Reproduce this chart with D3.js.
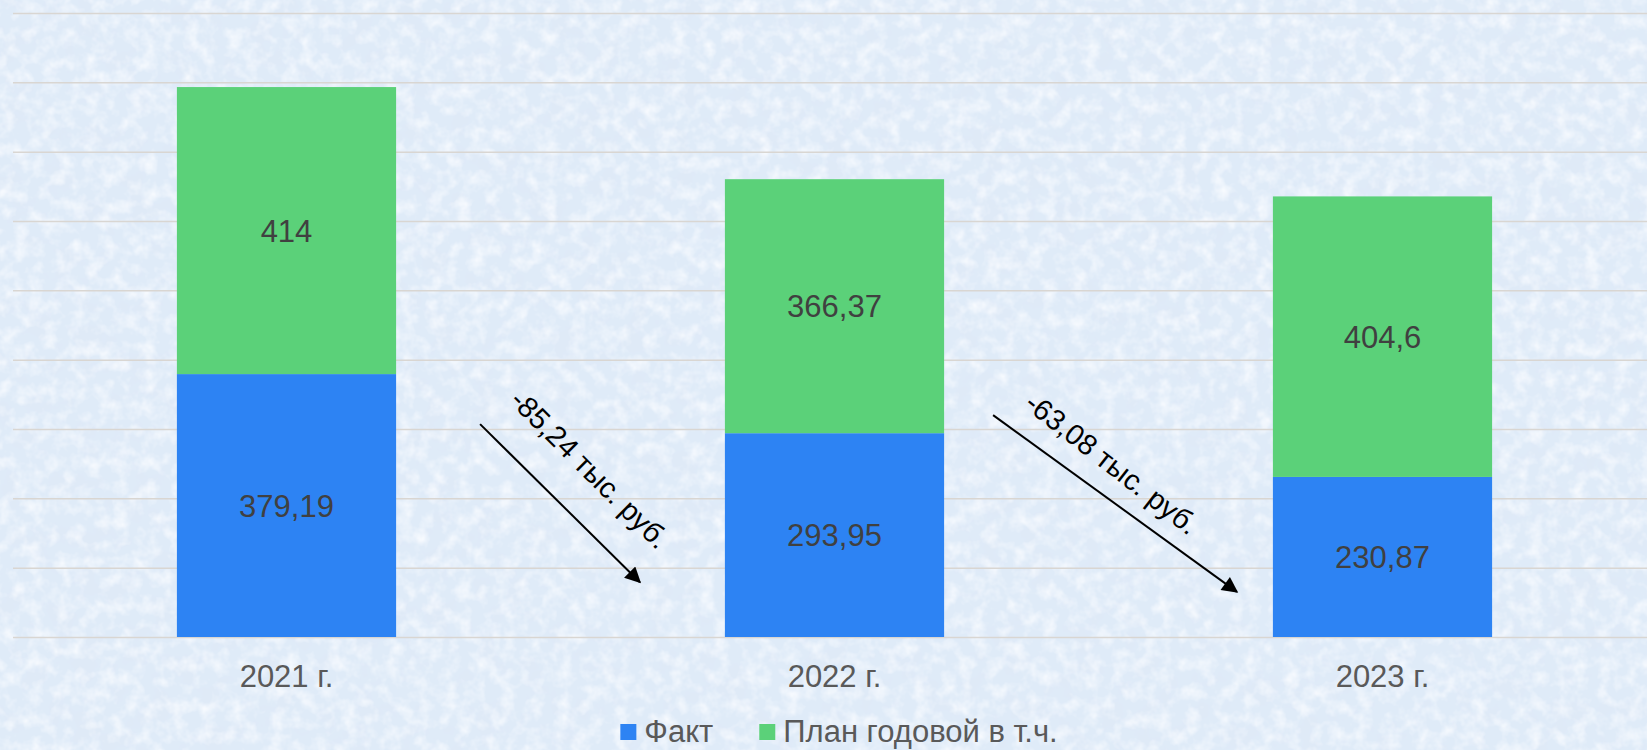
<!DOCTYPE html>
<html>
<head>
<meta charset="utf-8">
<script src="https://cdn.jsdelivr.net/npm/d3@7/dist/d3.min.js"></script>
<style>
  html, body { margin: 0; padding: 0; background: #dfeaf8; }
  svg { display: block; font-family: "Liberation Sans", Arial, sans-serif; }
</style>
</head>
<body>
<script>
var years = ['2021 г.', '2022 г.', '2023 г.'];
var fakt = [379.19, 293.95, 230.87];
var plan = [414, 366.37, 404.6];
var labelsFakt = ['379,19', '293,95', '230,87'];
var labelsPlan = ['414', '366,37', '404,6'];
var seriesNames = ['Факт', 'План годовой в т.ч.'];
var yTicks = [0, 100, 200, 300, 400, 500, 600, 700, 800, 900];

// annotation arrows between the bars (values in data units)
var arrowText = ['-85,24 тыс. руб.', '-63,08 тыс. руб.'];
var arrowFromY = [307, 320];
var arrowToY = [79, 65];

var width = 1647, height = 750;
var colours = ['#2d83f3', '#5bd179'];

var svg = d3.select('body').append('svg')
    .attr('width', width)
    .attr('height', height);

// textured light blue background
var defs = svg.append('defs');
var filt = defs.append('filter').attr('id', 'tex')
    .attr('x', 0).attr('y', 0).attr('width', '100%').attr('height', '100%');
filt.append('feTurbulence')
    .attr('type', 'fractalNoise')
    .attr('baseFrequency', 0.04)
    .attr('numOctaves', 4)
    .attr('seed', 7);
filt.append('feColorMatrix')
    .attr('type', 'matrix')
    .attr('values', '0 0 0 0 0.74  0 0 0 0 0.82  0 0 0 0 0.93  2.4 0 0 0 -1.0');

var filt2 = defs.append('filter').attr('id', 'tex2')
    .attr('x', 0).attr('y', 0).attr('width', '100%').attr('height', '100%');
filt2.append('feTurbulence')
    .attr('type', 'fractalNoise')
    .attr('baseFrequency', 0.07)
    .attr('numOctaves', 3)
    .attr('seed', 21);
filt2.append('feColorMatrix')
    .attr('type', 'matrix')
    .attr('values', '0 0 0 0 0.95  0 0 0 0 0.97  0 0 0 0 1  0 1.8 0 0 -0.75');

defs.append('marker')
    .attr('id', 'arrowhead')
    .attr('viewBox', '0 0 10 10')
    .attr('refX', 9).attr('refY', 5)
    .attr('markerWidth', 9).attr('markerHeight', 8)
    .attr('markerUnits', 'strokeWidth')
    .attr('orient', 'auto')
    .append('path')
    .attr('d', 'M0,0 L10,5 L0,10 z')
    .attr('fill', '#000');

svg.append('rect')
    .attr('width', width).attr('height', height)
    .attr('fill', '#dfebf8');
svg.append('rect')
    .attr('width', width).attr('height', height)
    .attr('filter', 'url(#tex)');
svg.append('rect')
    .attr('width', width).attr('height', height)
    .attr('filter', 'url(#tex2)');

var x = d3.scaleBand()
    .domain(years)
    .range([12.5, 1656.5])
    .paddingInner(0.6)
    .paddingOuter(0.3);

var y = d3.scaleLinear()
    .domain([0, 900])
    .range([637, 13]);

// gridlines
var yAxis = d3.axisLeft(y)
    .tickValues(yTicks)
    .tickSize(-(width - 13))
    .tickFormat('');

svg.append('g')
    .attr('class', 'grid')
    .attr('transform', 'translate(13,0)')
    .call(yAxis)
    .call(g => g.select('.domain').remove())
    .selectAll('.tick line')
    .attr('stroke', '#d9d6d2')
    .attr('stroke-width', 1.5);

var data = years.map((e, i) => ({
    year: e,
    fakt: fakt[i],
    plan: plan[i],
    lf: labelsFakt[i],
    lp: labelsPlan[i]
}));

var stack = d3.stack().keys(['fakt', 'plan'])(data);

var layers = svg.selectAll('g.layer')
    .data(stack)
    .enter()
    .append('g')
    .attr('class', 'layer')
    .attr('fill', (e, i) => colours[i]);

layers.selectAll('rect')
    .data(e => e)
    .enter()
    .append('rect')
    .attr('x', e => x(e.data.year))
    .attr('width', x.bandwidth())
    .attr('y', e => y(e[1]))
    .attr('height', e => y(e[0]) - y(e[1]));

layers.selectAll('text')
    .data((e, i) => e.map(d => ({ d: d, key: i })))
    .enter()
    .append('text')
    .attr('x', e => x(e.d.data.year) + x.bandwidth() / 2)
    .attr('y', e => (y(e.d[0]) + y(e.d[1])) / 2 + 11)
    .attr('text-anchor', 'middle')
    .style('font-size', '31px')
    .style('fill', '#404040')
    .text(e => e.key == 0 ? e.d.data.lf : e.d.data.lp);

// category labels
svg.selectAll('text.cat')
    .data(years)
    .enter()
    .append('text')
    .attr('class', 'cat')
    .attr('x', e => x(e) + x.bandwidth() / 2)
    .attr('y', 687)
    .attr('text-anchor', 'middle')
    .style('font-size', '31px')
    .style('fill', '#595959')
    .text(e => e);

// arrows with change labels
var arrows = arrowText.map((t, i) => {
    var x0 = x(years[i]) + x.bandwidth() + (i == 0 ? 84 : 49);
    var x1 = x(years[i + 1]) - (i == 0 ? 85 : 36);
    return { text: t, x0: x0, y0: y(arrowFromY[i]), x1: x1, y1: y(arrowToY[i]) };
});

svg.selectAll('line.arrow')
    .data(arrows)
    .enter()
    .append('line')
    .attr('class', 'arrow')
    .attr('x1', e => e.x0)
    .attr('y1', e => e.y0)
    .attr('x2', e => e.x1)
    .attr('y2', e => e.y1)
    .attr('stroke', '#000')
    .attr('stroke-width', 2)
    .attr('marker-end', 'url(#arrowhead)');

var textShift = [[30, -34], [-3, -40]];
var textAngle = [45, 38];

svg.selectAll('text.arrowLabel')
    .data(arrows)
    .enter()
    .append('text')
    .attr('class', 'arrowLabel')
    .attr('transform', (e, i) => {
        var cx = (e.x0 + e.x1) / 2 + textShift[i][0];
        var cy = (e.y0 + e.y1) / 2 + textShift[i][1];
        return 'translate(' + cx + ',' + cy + ') rotate(' + textAngle[i] + ')';
    })
    .attr('text-anchor', 'middle')
    .attr('dy', '0.35em')
    .style('font-size', '29px')
    .style('fill', '#000')
    .text(e => e.text);

// legend
var legend = svg.append('g').attr('class', 'legend');
var lx = 0;
seriesNames.forEach((name, i) => {
    var item = legend.append('g').attr('transform', 'translate(' + lx + ',0)');
    item.append('rect')
        .attr('x', 0).attr('y', 724)
        .attr('width', 16).attr('height', 16)
        .attr('fill', colours[i]);
    var t = item.append('text')
        .attr('x', 24).attr('y', 742)
        .style('font-size', '31px')
        .style('fill', '#595959')
        .text(name);
    lx += 24 + t.node().getComputedTextLength() + 46;
});
var lw = lx - 46;
legend.attr('transform', 'translate(' + (839 - lw / 2) + ',0)');
</script>
</body>
</html>
